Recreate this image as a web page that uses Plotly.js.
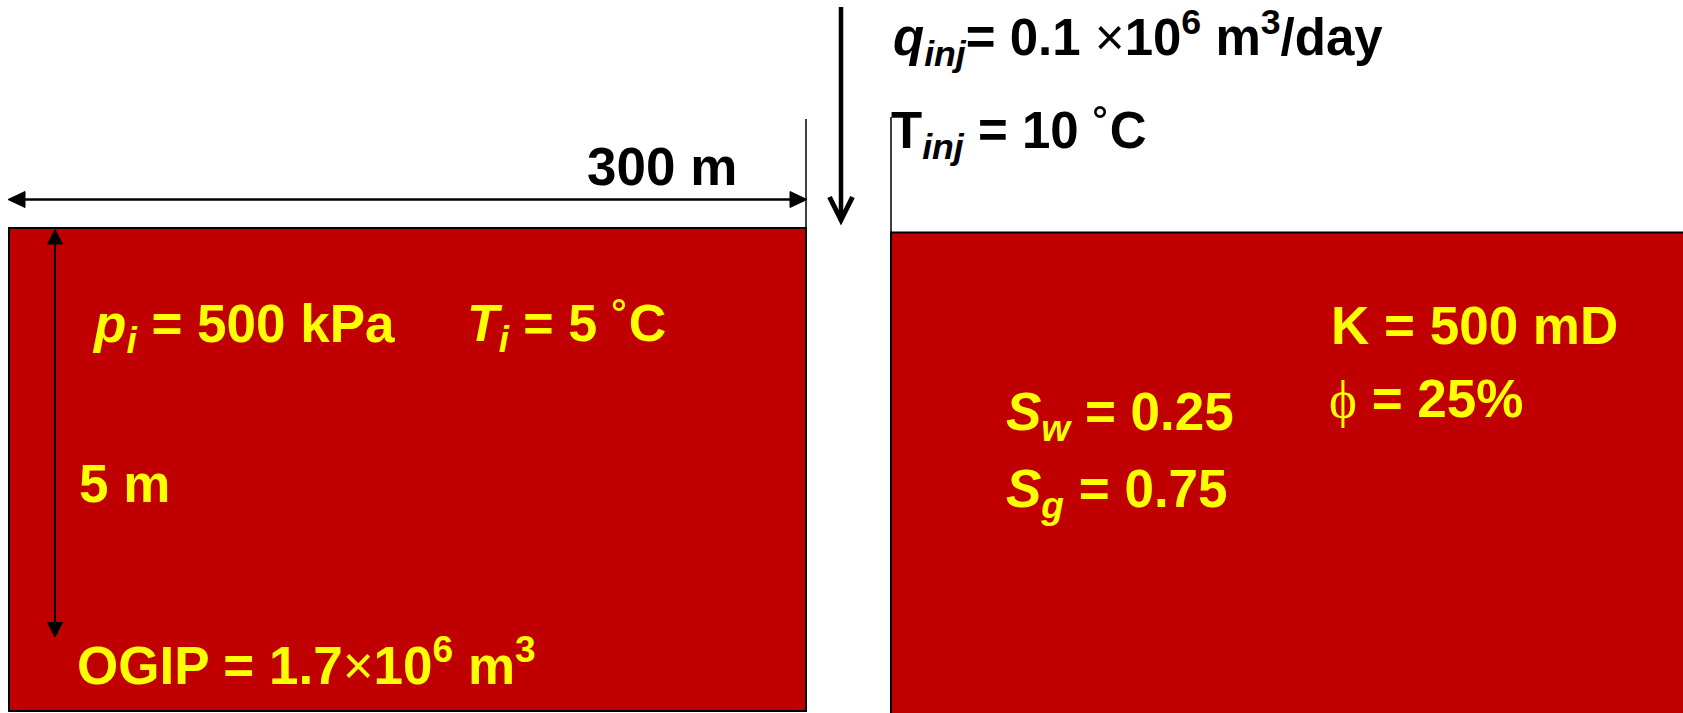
<!DOCTYPE html>
<html>
<head>
<meta charset="utf-8">
<script src="https://cdn.plot.ly/plotly-3.0.1.min.js"></script>
<style>
html,body{margin:0;padding:0;background:#fff;}
#chart{width:1683px;height:713px;}
</style>
</head>
<body>
<div id="chart"></div>
<script>
// Labels of the diagram (text content)
const inletLabels = [
  "<i>q</i><sub><i>inj</i></sub>= 0.1 <span style='font-weight:normal'>×</span>10<sup>6</sup> m<sup>3</sup>/day",
  "T<sub><i>inj</i></sub> = 10 <span style='font-weight:normal'>˚</span>C"
];
const leftBlockLabels = [
  "<i>p</i><sub><i>i</i></sub> = 500 kPa",
  "<i>T</i><sub><i>i</i></sub> = 5 <span style='font-weight:normal'>˚</span>C",
  "5 m",
  "OGIP = 1.7<span style='font-weight:normal'>×</span>10<sup>6</sup> m<sup>3</sup>"
];
const rightBlockLabels = [
  "<i>S</i><sub><i>w</i></sub> = 0.25",
  "<i>S</i><sub><i>g</i></sub> = 0.75",
  "K = 500 mD",
  "<span style=\"font-family:'Liberation Serif';font-weight:normal\">ϕ</span> = 25%"
];
const dimensionLabels = ["300 m"];

const W = 1683, H = 713;
const RED = "#C00000", YEL = "#FFFF00";

const shapes = [];
function line(x0,y0,x1,y1,w,c){shapes.push({type:"line",xref:"x",yref:"y",x0,y0,x1,y1,line:{color:c||"#000",width:w}});}
function tri(pts){shapes.push({type:"path",xref:"x",yref:"y",path:"M"+pts.map(p=>p.join(",")).join("L")+"Z",fillcolor:"#000",line:{color:"#000",width:1}});}

// reservoir blocks
shapes.push({type:"rect",xref:"x",yref:"y",x0:9,y0:228,x1:806,y1:711,fillcolor:RED,line:{color:"#000",width:2}});
shapes.push({type:"rect",xref:"x",yref:"y",x0:891,y0:232.5,x1:1700,y1:720,fillcolor:RED,line:{color:"#000",width:2}});
// well lines
line(806,119,806,711,1.5);
line(891,117,891,711,1.5);
// horizontal dimension arrow
line(20,199.5,795,199.5,2.5);
tri([[8,199.5],[25,191.5],[25,207.5]]);
tri([[807,199.5],[790,191.5],[790,207.5]]);
// vertical dimension arrow
line(55,240,55,626,2);
tri([[55,229.5],[47.5,244],[62.5,244]]);
tri([[55,637],[47.5,622.5],[62.5,622.5]]);
// injection arrow (open chevron head)
line(841,7,841,218,4.5);
shapes.push({type:"path",xref:"x",yref:"y",path:"M829.5,197 L841,220 L852.5,197",line:{color:"#000",width:5}});

function ann(text,x,y,size,color){
  return {text,x,y,xref:"x",yref:"y",xanchor:"left",yanchor:"middle",showarrow:false,
    font:{family:"Liberation Sans, Arial, sans-serif",size,color,weight:700}};
}
const annotations = [
  ann(dimensionLabels[0],585,166,53,"#000"),
  ann(inletLabels[0],891,38,51,"#000"),
  ann(inletLabels[1],889,134,51,"#000"),
  ann(leftBlockLabels[0],90,327,53,YEL),
  ann(leftBlockLabels[1],465,327,52,YEL),
  ann(leftBlockLabels[2],77,483,53,YEL),
  ann(leftBlockLabels[3],75,661,53,YEL),
  ann(rightBlockLabels[0],1004,415,53,YEL),
  ann(rightBlockLabels[1],1004,492,53,YEL),
  ann(rightBlockLabels[2],1329,325,53,YEL),
  ann(rightBlockLabels[3],1327,398,53,YEL)
];

Plotly.newPlot("chart",[],{
  width:W,height:H,margin:{l:0,r:0,t:0,b:0},
  paper_bgcolor:"#fff",plot_bgcolor:"#fff",
  xaxis:{range:[0,W],visible:false,fixedrange:true},
  yaxis:{range:[H,0],visible:false,fixedrange:true},
  shapes,annotations,showlegend:false
},{staticPlot:true});
</script>
</body>
</html>
